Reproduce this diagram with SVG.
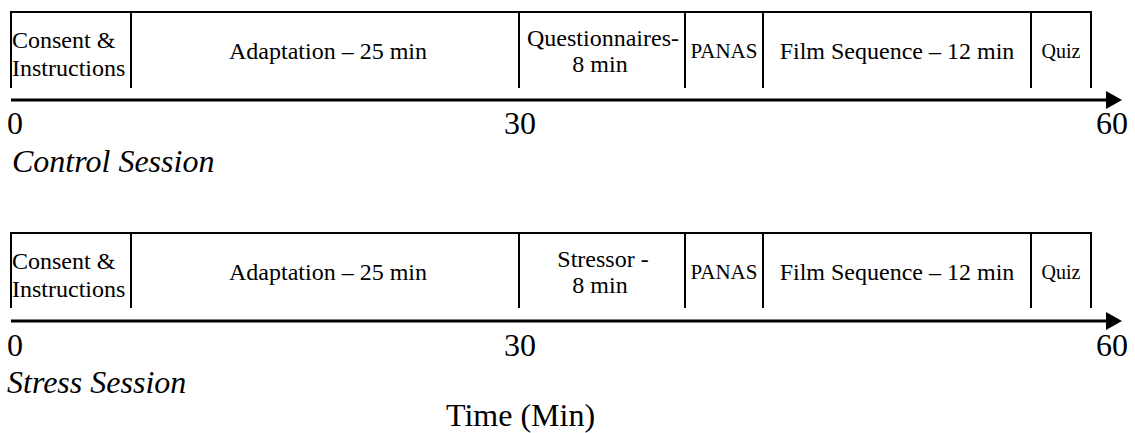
<svg xmlns="http://www.w3.org/2000/svg" width="1135" height="433" viewBox="0 0 1135 433">
<defs>
<style>
.box{fill:none;stroke:#000;stroke-width:2}
.axis{stroke:#000;stroke-width:3;fill:none}
.t{font-family:"Liberation Serif","Times New Roman",serif;fill:#000;font-size:24px;text-anchor:middle}
.s21{font-size:21px}
.s20{font-size:20px}
.l{font-family:"Liberation Serif","Times New Roman",serif;fill:#000;font-size:32px}
.i{font-style:italic}
</style>
<marker id="arr" viewBox="0 0 16 18" refX="0" refY="9" markerWidth="16" markerHeight="18" markerUnits="userSpaceOnUse" orient="auto">
<path d="M0,0 L16,9 L0,18 Z" fill="#000"/>
</marker>
</defs>
<rect width="1135" height="433" fill="#fff"/>

<g id="control-session">
<g id="c-frame">
<path class="box" d="M11,88 V12 H1091 V88"/>
</g>
<g id="c-consent">
<path class="box" d="M131,12 V88"/>
<text class="t" style="text-anchor:start" x="12" y="48">Consent &amp;</text>
<text class="t" style="text-anchor:start" x="12" y="76">Instructions</text>
</g>
<g id="c-adaptation">
<path class="box" d="M519,12 V88"/>
<text class="t" x="328" y="59">Adaptation – 25 min</text>
</g>
<g id="c-questionnaires">
<path class="box" d="M685,12 V88"/>
<text class="t" x="603" y="46">Questionnaires-</text>
<text class="t" x="600" y="72">8 min</text>
</g>
<g id="c-panas">
<path class="box" d="M763,12 V88"/>
<text class="t s21" x="724" y="58">PANAS</text>
</g>
<g id="c-film">
<path class="box" d="M1031,12 V88"/>
<text class="t" x="897" y="59">Film Sequence – 12 min</text>
</g>
<g id="c-quiz">
<text class="t s20" x="1061" y="58">Quiz</text>
</g>
</g>

<g id="stress-session">
<g id="s-frame">
<path class="box" d="M11,308 V233 H1091 V308"/>
</g>
<g id="s-consent">
<path class="box" d="M131,233 V308"/>
<text class="t" style="text-anchor:start" x="12" y="269">Consent &amp;</text>
<text class="t" style="text-anchor:start" x="12" y="297">Instructions</text>
</g>
<g id="s-adaptation">
<path class="box" d="M519,233 V308"/>
<text class="t" x="328" y="280">Adaptation – 25 min</text>
</g>
<g id="s-stressor">
<path class="box" d="M685,233 V308"/>
<text class="t" x="603" y="267">Stressor -</text>
<text class="t" x="600" y="293">8 min</text>
</g>
<g id="s-panas">
<path class="box" d="M763,233 V308"/>
<text class="t s21" x="724" y="279">PANAS</text>
</g>
<g id="s-film">
<path class="box" d="M1031,233 V308"/>
<text class="t" x="897" y="280">Film Sequence – 12 min</text>
</g>
<g id="s-quiz">
<text class="t s20" x="1061" y="279">Quiz</text>
</g>
</g>

<g id="connectors">
<path class="axis" d="M11,100 H1106" marker-end="url(#arr)"/>
<path class="axis" d="M11,321 H1106" marker-end="url(#arr)"/>
</g>

<g id="labels">
<text class="l" x="7" y="134">0</text>
<text class="l" x="504" y="134">30</text>
<text class="l" x="1096" y="134">60</text>
<text class="l i" x="12" y="172">Control Session</text>
<text class="l" x="7" y="356">0</text>
<text class="l" x="504" y="356">30</text>
<text class="l" x="1096" y="356">60</text>
<text class="l i" x="7" y="393">Stress Session</text>
<text class="l" x="446" y="426">Time (Min)</text>
</g>
</svg>
